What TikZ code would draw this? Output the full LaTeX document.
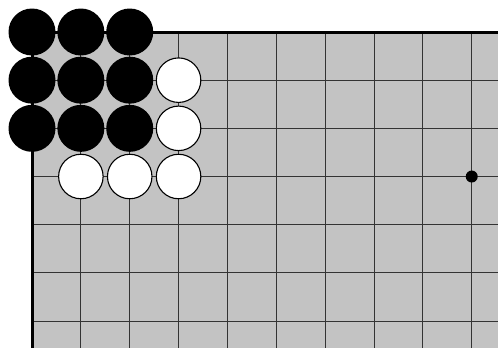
\documentclass[tikz,border=0pt]{standalone}
\definecolor{boardgray}{RGB}{195,195,195}
\begin{document}
\begin{tikzpicture}[x=1pt,y=-1pt,
  gridline/.style={line width=0.9pt,black!80},
  edgeline/.style={line width=3pt,black,line cap=rect},
  blackstone/.style={circle,fill=black,minimum size=47pt,inner sep=0pt},
  whitestone/.style={circle,draw=black,line width=1.1pt,fill=white,minimum size=44.5pt,inner sep=0pt},
  hoshi/.style={circle,fill=black,minimum size=12pt,inner sep=0pt}]
\useasboundingbox (0,0) rectangle (498,348);
\def\gx#1{32+48.86*#1}
\def\gy#1{32+48.17*#1}
\fill[boardgray] (32,32) rectangle (498,348);
\foreach \i in {1,...,9} \draw[gridline] ({\gx{\i}},32) -- ({\gx{\i}},348);
\foreach \j in {1,...,6} \draw[gridline] (32,{\gy{\j}}) -- (498,{\gy{\j}});
\draw[edgeline] (498,32) -- (32,32) -- (32,348);
\node[hoshi] (star) at ({\gx{9}},{\gy{3}}) {};
\foreach \c/\r in {0/0,1/0,2/0,0/1,1/1,2/1,0/2,1/2,2/2}
  \node[blackstone] (b\c\r) at ({\gx{\c}},{\gy{\r}}) {};
\foreach \c/\r in {3/1,3/2,1/3,2/3,3/3}
  \node[whitestone] (w\c\r) at ({\gx{\c}},{\gy{\r}}) {};
\end{tikzpicture}
\end{document}
